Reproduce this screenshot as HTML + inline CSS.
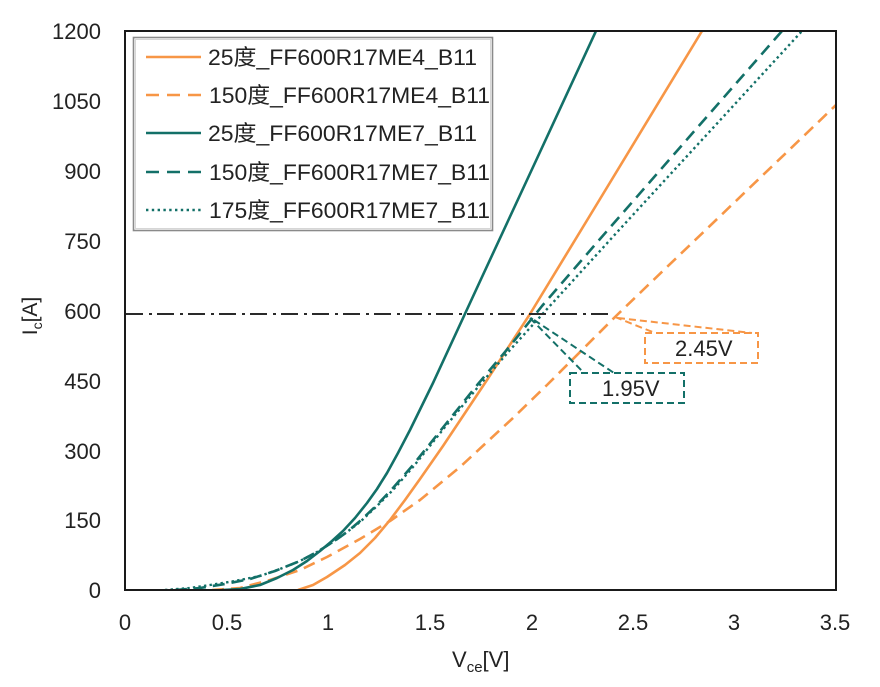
<!DOCTYPE html>
<html>
<head>
<meta charset="utf-8">
<style>
  html, body { margin: 0; padding: 0; background: #ffffff; }
  svg { display: block; }
  text { font-family: "Liberation Sans", "Noto Sans CJK SC", sans-serif; fill: #222222; }
</style>
</head>
<body>
<svg width="880" height="687" viewBox="0 0 880 687" xmlns="http://www.w3.org/2000/svg">
  <defs>
    <clipPath id="plot">
      <rect x="125" y="31" width="711" height="559"/>
    </clipPath>
  </defs>
  <rect x="0" y="0" width="880" height="687" fill="#ffffff"/>

  <!-- Y tick labels -->
  <g font-size="22" text-anchor="end">
    <text x="101" y="39">1200</text>
    <text x="101" y="109">1050</text>
    <text x="101" y="179">900</text>
    <text x="101" y="249">750</text>
    <text x="101" y="319">600</text>
    <text x="101" y="389">450</text>
    <text x="101" y="459">300</text>
    <text x="101" y="528">150</text>
    <text x="101" y="598">0</text>
  </g>

  <!-- X tick labels -->
  <g font-size="22" text-anchor="middle">
    <text x="125" y="630">0</text>
    <text x="227" y="630">0.5</text>
    <text x="328" y="630">1</text>
    <text x="430" y="630">1.5</text>
    <text x="532" y="630">2</text>
    <text x="633" y="630">2.5</text>
    <text x="734" y="630">3</text>
    <text x="835" y="630">3.5</text>
  </g>

  <!-- Axis titles -->
  <text x="452" y="667" font-size="22">V<tspan font-size="15" dy="5">ce</tspan><tspan dy="-5">[V]</tspan></text>
  <text transform="translate(37,316) rotate(-90)" font-size="21" text-anchor="middle">I<tspan font-size="14" dy="5">c</tspan><tspan dy="-5">[A]</tspan></text>

  <!-- Curves -->
  <g clip-path="url(#plot)" fill="none" stroke-linejoin="round">
    <!-- 25 ME4 orange solid -->
    <polyline stroke="#F79646" stroke-width="2.6"
      points="298,590 313,585 327,577 345,565 360,553 375,538 390,520 405,500 420,479 443,446 465,413 487,380 530,314 600,199 702,31 705,26"/>
    <!-- 150 ME4 orange dashed -->
    <polyline stroke="#F79646" stroke-width="2.6" stroke-dasharray="12 7"
      points="212,590 240,588 270,580 300,570 327,557 360,539 390,521 420,500 460,467 513,418 547,385 615,317 643,290 835,106 840,101"/>
    <!-- 25 ME7 teal solid -->
    <polyline stroke="#137068" stroke-width="2.6"
      points="222,590 240,589 260,585 277,578 293,570 307,561 320,551 332,541 343,531 355,518 367,503 377,489 387,473 398,453 410,430 433,383 482,277 540,152 596,31 598,26"/>
    <!-- 150 ME7 teal dashed -->
    <polyline stroke="#137068" stroke-width="2.6" stroke-dasharray="12 7"
      points="175,590 200,588 225,584 250,579 275,571 300,561 317,552 333,542 347,532 360,521 377,505 393,488 413,465 445,425 478,384 510,346 542,306 600,239 690,136 782,31 786,26"/>
    <!-- 175 ME7 teal dotted -->
    <polyline stroke="#137068" stroke-width="2.4" stroke-dasharray="2.4 3.2"
      points="165,590 190,588 210,585 235,581 260,576 280,569 300,561 317,552 333,542 347,532 360,522 377,506 393,490 413,467 445,427 478,387 510,350 548,308 620,229 700,142 802,31 806,26"/>
  </g>

  <!-- Dash-dot 600A line -->
  <line x1="126" y1="314" x2="614" y2="314" stroke="#2a2a2a" stroke-width="2" stroke-dasharray="17 6 3 5"/>

  <!-- Plot frame -->
  <rect x="125" y="31" width="711" height="559" fill="none" stroke="#1a1a1a" stroke-width="2"/>

  <!-- Callout 2.45V (orange) -->
  <g fill="none" stroke="#F79646" stroke-width="2" stroke-dasharray="7 4">
    <line x1="615" y1="317" x2="655" y2="333"/>
    <line x1="618" y1="318" x2="752" y2="333"/>
    <rect x="645" y="333" width="113" height="30"/>
  </g>
  <text x="675" y="356" font-size="22">2.45V</text>

  <!-- Callout 1.95V (teal) -->
  <g fill="none" stroke="#137068" stroke-width="2" stroke-dasharray="7 4">
    <line x1="530" y1="318" x2="584" y2="373"/>
    <line x1="534" y1="320" x2="614" y2="373"/>
    <rect x="570" y="373" width="114" height="30"/>
  </g>
  <text x="602" y="396" font-size="22">1.95V</text>

  <!-- Legend -->
  <rect x="133.5" y="37.5" width="359" height="193" fill="#ffffff" stroke="#8a8a8a" stroke-width="1.6"/>
  <rect x="135.5" y="39.5" width="355" height="189" fill="none" stroke="#d6d6d6" stroke-width="1"/>
  <g fill="none" stroke-width="2.6">
    <line x1="146" y1="57" x2="201" y2="57" stroke="#F79646"/>
    <line x1="146" y1="95" x2="201" y2="95" stroke="#F79646" stroke-dasharray="13 8"/>
    <line x1="146" y1="133" x2="201" y2="133" stroke="#137068"/>
    <line x1="146" y1="172" x2="201" y2="172" stroke="#137068" stroke-dasharray="13 8"/>
    <line x1="146" y1="210" x2="201" y2="210" stroke="#137068" stroke-width="2.4" stroke-dasharray="2.4 3.4"/>
  </g>
  <g font-size="22">
    <text x="208" y="65" textLength="269" lengthAdjust="spacingAndGlyphs">25度_FF600R17ME4_B11</text>
    <text x="209" y="103" textLength="281" lengthAdjust="spacingAndGlyphs">150度_FF600R17ME4_B11</text>
    <text x="208" y="141" textLength="269" lengthAdjust="spacingAndGlyphs">25度_FF600R17ME7_B11</text>
    <text x="209" y="180" textLength="281" lengthAdjust="spacingAndGlyphs">150度_FF600R17ME7_B11</text>
    <text x="209" y="218" textLength="281" lengthAdjust="spacingAndGlyphs">175度_FF600R17ME7_B11</text>
  </g>
</svg>
</body>
</html>
